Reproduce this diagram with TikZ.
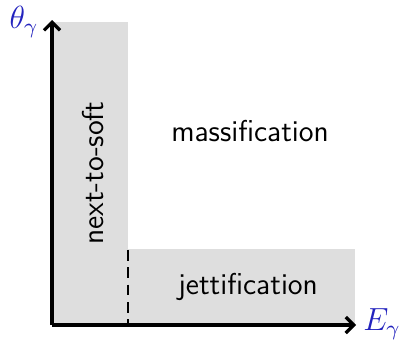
\documentclass[tikz,border=0pt]{standalone}
\usetikzlibrary{arrows.meta}
\definecolor{axlab}{RGB}{35,35,190}
\definecolor{region}{RGB}{222,222,222}
\begin{document}
\begin{tikzpicture}[x=0.375pt,y=-0.375pt,
  axis/.style={line width=1.2pt,-{Straight Barb[length=3pt,width=6pt]}},
  lab/.style={text=axlab,font=\large},
  reg/.style={font=\sffamily\fontsize{11.3}{13}\selectfont}]
\useasboundingbox (0,0) rectangle (401,339);
\fill[region] (52,22) rectangle (128,325);
\fill[region] (128,249) rectangle (355,325);
\draw[line width=0.8pt,dash pattern=on 4pt off 2.5pt] (128,250) -- (128,325);
\coordinate (O) at (52,325);
\coordinate (Y) at (52,20);
\coordinate (X) at (356,325);
\draw[axis] (O) -- (Y);
\draw[axis] (O) -- (X);
\node[lab] (ty) at (24,22) {$\theta_\gamma$};
\node[lab] (ex) at (382,324) {$E_\gamma$};
\node[reg] (mass) at (250,131) {massification};
\node[reg] (jet) at (248,287) {jettification};
\node[reg,rotate=90] (nts) at (93,173) {next-to-soft};
\end{tikzpicture}
\end{document}
